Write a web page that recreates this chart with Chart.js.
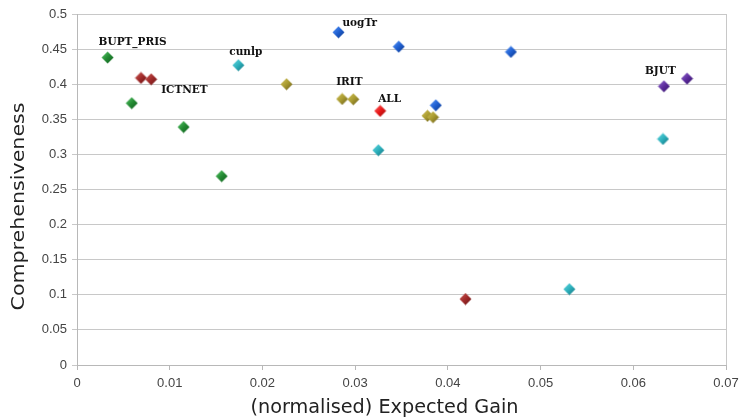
<!DOCTYPE html>
<html><head><meta charset="utf-8">
<script src="https://cdn.jsdelivr.net/npm/chart.js@4/dist/chart.umd.min.js"></script>
<style>html,body{margin:0;padding:0;background:#fff}#wrap{width:742px;height:418px}</style>
</head><body><div id="wrap"><canvas id="c" width="742" height="418"></canvas></div>
<script>
// ---- data ----
const seriesNames = ['BUPT_PRIS', 'ICTNET', 'cunlp', 'IRIT', 'uogTr', 'BJUT', 'ALL'];
const buptX  = [0.0033, 0.0059, 0.0115, 0.0156];
const buptY  = [0.438, 0.373, 0.339, 0.269];
const ictnetX = [0.0069, 0.0080, 0.0419];
const ictnetY = [0.409, 0.407, 0.094];
const cunlpX = [0.0174, 0.0325, 0.0531, 0.0632];
const cunlpY = [0.427, 0.306, 0.108, 0.322];
const iritX  = [0.0226, 0.0286, 0.0298, 0.0378, 0.0384];
const iritY  = [0.400, 0.379, 0.3785, 0.355, 0.353];
const uogX   = [0.0282, 0.0347, 0.0468, 0.0387];
const uogY   = [0.474, 0.4535, 0.446, 0.370];
const bjutX  = [0.0633, 0.0658];
const bjutY  = [0.397, 0.408];
const allX   = [0.0327];
const allY   = [0.362];
const yTicks = [0, 0.05, 0.1, 0.15, 0.2, 0.25, 0.3, 0.35, 0.4, 0.45, 0.5];
const xTicks = [0, 0.01, 0.02, 0.03, 0.04, 0.05, 0.06, 0.07];
const xTitle = '(normalised) Expected Gain';
const yTitle = 'Comprehensiveness';
// label text, series index, point index in that series
const labelText   = ['BUPT_PRIS', 'ICTNET', 'cunlp', 'uogTr', 'IRIT', 'ALL', 'BJUT'];
const labelSeries = [0, 1, 2, 4, 3, 6, 5];
const labelPoint  = [0, 1, 0, 0, 1, 0, 0];

// ---- styling ----
const colors = [
  ['#5fd070', '#238a33', '#0f5a1c'],
  ['#d0605a', '#a02a2a', '#601010'],
  ['#70dde6', '#2cb0bc', '#136a74'],
  ['#d8c860', '#a89a30', '#605418'],
  ['#5d9cff', '#1f5fd0', '#0c3280'],
  ['#9a70d8', '#5c2c9c', '#2e1060'],
  ['#ff7070', '#e81818', '#900808']
];
const labelOffsets = [[-9, -15], [10, 11], [-9, -13], [4, -9], [-6, -17], [-2, -12], [-19, -15]];

function diamond(c) {
  const s = 13, cv = document.createElement('canvas');
  cv.width = s; cv.height = s;
  const g = cv.getContext('2d');
  const h = s / 2;
  const grad = g.createLinearGradient(0, 0, s, s);
  grad.addColorStop(0, c[0]);
  grad.addColorStop(0.5, c[1]);
  grad.addColorStop(1, c[2]);
  g.beginPath();
  g.moveTo(h, 0.5); g.lineTo(s - 0.5, h); g.lineTo(h, s - 0.5); g.lineTo(0.5, h); g.closePath();
  g.fillStyle = grad; g.fill();
  return cv;
}

const xs = [buptX, ictnetX, cunlpX, iritX, uogX, bjutX, allX];
const ys = [buptY, ictnetY, cunlpY, iritY, uogY, bjutY, allY];
const datasets = seriesNames.map((n, i) => ({
  label: n,
  data: xs[i].map((x, j) => ({x: x, y: ys[i][j]})),
  pointStyle: diamond(colors[i]),
  pointRadius: 6,
  pointHoverRadius: 6,
  backgroundColor: colors[i][1],
  borderColor: colors[i][1]
}));

const labelPlugin = {
  id: 'pointLabels',
  afterDatasetsDraw(chart) {
    const ctx = chart.ctx;
    ctx.save();
    ctx.font = 'bold 10.5px "DejaVu Serif"';
    ctx.fillStyle = '#111';
    ctx.textAlign = 'left';
    ctx.textBaseline = 'middle';
    labelText.forEach((t, k) => {
      const el = chart.getDatasetMeta(labelSeries[k]).data[labelPoint[k]];
      ctx.fillText(t, el.x + labelOffsets[k][0], el.y + labelOffsets[k][1]);
    });
    ctx.restore();
  }
};

// axis titles (drawn slightly stretched, as in the reference)
const titlePlugin = {
  id: 'axisTitles',
  afterDraw(chart) {
    const ctx = chart.ctx, a = chart.chartArea;
    ctx.save();
    ctx.fillStyle = '#222';
    ctx.textAlign = 'center';
    ctx.textBaseline = 'middle';
    ctx.font = '19px "DejaVu Sans"';
    let w = ctx.measureText(xTitle).width;
    ctx.save();
    ctx.translate((a.left + a.right) / 2 - 17, 408);
    ctx.scale(268 / w, 1);
    ctx.fillText(xTitle, 0, 0);
    ctx.restore();
    ctx.font = '18px "DejaVu Sans"';
    w = ctx.measureText(yTitle).width;
    ctx.save();
    ctx.translate(19, (a.top + a.bottom) / 2 + 17);
    ctx.rotate(-Math.PI / 2);
    ctx.scale(208 / w, 1);
    ctx.fillText(yTitle, 0, 0);
    ctx.restore();
    ctx.restore();
  }
};

const fmt = v => String(+(+v).toFixed(4));
const tickFont = {family: '"Liberation Sans", Arial, sans-serif', size: 13};

new Chart(document.getElementById('c'), {
  type: 'scatter',
  data: {datasets},
  plugins: [labelPlugin, titlePlugin],
  options: {
    responsive: false,
    animation: false,
    layout: {padding: {top: 14, right: 16, left: 0, bottom: 0}},
    plugins: {legend: {display: false}, tooltip: {enabled: false}},
    scales: {
      x: {
        type: 'linear', min: 0, max: 0.07,
        afterBuildTicks: s => { s.ticks = xTicks.map(v => ({value: v})); },
        afterFit: s => { s.height = 53; s.paddingRight = 0; s.paddingLeft = 0; },
        ticks: {callback: fmt, font: tickFont, color: '#444', padding: 6, maxRotation: 0},
        grid: {
          color: c => (c.tick && c.tick.value === 0.07) ? '#c8c8c8' : 'rgba(0,0,0,0)',
          tickColor: '#b8b8b8', tickLength: 5, drawOnChartArea: true
        },
        border: {color: '#b8b8b8'}
      },
      y: {
        type: 'linear', min: 0, max: 0.5,
        afterBuildTicks: s => { s.ticks = yTicks.map(v => ({value: v})); },
        afterFit: s => { s.width = 77; },
        ticks: {callback: fmt, font: tickFont, color: '#444', padding: 5},
        grid: {color: '#c8c8c8', tickColor: '#c8c8c8', tickLength: 5},
        border: {color: '#b8b8b8'}
      }
    }
  }
});
</script></body></html>
